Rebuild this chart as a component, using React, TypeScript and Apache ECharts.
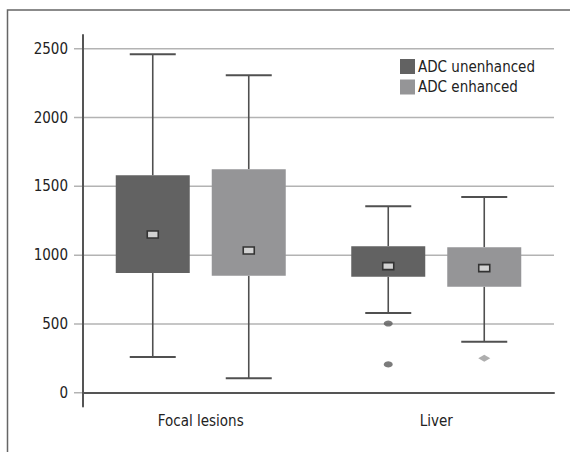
import React, { useEffect, useRef } from "react";
import * as echarts from "echarts";

const CATEGORIES = ["Focal lesions", "Liver"];
const SERIES_NAMES = ["ADC unenhanced", "ADC enhanced"];
const Y_TICKS = [0, 500, 1000, 1500, 2000, 2500];

// ADC unenhanced
const UNENH_MIN = [260, 580];
const UNENH_Q1 = [870, 843];
const UNENH_Q3 = [1580, 1065];
const UNENH_MAX = [2460, 1355];
const UNENH_MEAN = [1150, 920];
const UNENH_OUTLIERS: [string, number][] = [["Liver", 503], ["Liver", 206]];

// ADC enhanced
const ENH_MIN = [105, 370];
const ENH_Q1 = [850, 770];
const ENH_Q3 = [1625, 1058];
const ENH_MAX = [2307, 1422];
const ENH_MEAN = [1034, 906];
const ENH_OUTLIERS: [string, number][] = [["Liver", 250]];

const FONT = "'Liberation Sans Narrow', 'DejaVu Sans Condensed', 'Arial Narrow', sans-serif";
const WHISKER = "#505050";

function boxSeries(name: string, color: string, offset: number, mins: number[], q1s: number[], q3s: number[], maxs: number[], means: number[]) {
  return {
    type: "custom",
    name,
    z: 2,
    itemStyle: { color },
    encode: { x: 0, y: [1, 2, 3, 4, 5] },
    data: CATEGORIES.map((_, i) => [i, mins[i], q1s[i], q3s[i], maxs[i], means[i]]),
    renderItem: (params: any, api: any) => {
      const ci = api.value(0);
      const pMin = api.coord([ci, api.value(1)]);
      const pQ1 = api.coord([ci, api.value(2)]);
      const pQ3 = api.coord([ci, api.value(3)]);
      const pMax = api.coord([ci, api.value(4)]);
      const pMean = api.coord([ci, api.value(5)]);
      const cx = pMin[0] + offset;
      const boxW = 74;
      const capW = 46;
      return {
        type: "group",
        children: [
          { type: "line", shape: { x1: cx, y1: pMax[1], x2: cx, y2: pQ3[1] }, style: { stroke: WHISKER, lineWidth: 1.6 } },
          { type: "line", shape: { x1: cx, y1: pQ1[1], x2: cx, y2: pMin[1] }, style: { stroke: WHISKER, lineWidth: 1.6 } },
          { type: "line", shape: { x1: cx - capW / 2, y1: pMax[1], x2: cx + capW / 2, y2: pMax[1] }, style: { stroke: WHISKER, lineWidth: 2 } },
          { type: "line", shape: { x1: cx - capW / 2, y1: pMin[1], x2: cx + capW / 2, y2: pMin[1] }, style: { stroke: WHISKER, lineWidth: 2 } },
          { type: "rect", shape: { x: cx - boxW / 2, y: pQ3[1], width: boxW, height: pQ1[1] - pQ3[1] }, style: { fill: color } },
          { type: "rect", shape: { x: cx - 5.5, y: pMean[1] - 3.5, width: 11, height: 7 }, style: { fill: "#d2d2d2", stroke: "#333", lineWidth: 1.6 } },
        ],
      };
    },
  };
}

export default function App() {
  const ref = useRef<HTMLDivElement>(null);
  useEffect(() => {
    if (!ref.current) return;
    const chart = echarts.init(ref.current, null, { renderer: "svg" });
    chart.setOption({
      animation: false,
      textStyle: { fontFamily: FONT },
      grid: { left: 83, right: 16, top: 35, bottom: 45.5 },
      legend: {
        data: SERIES_NAMES,
        orient: "vertical",
        left: 400,
        top: 59,
        itemWidth: 15,
        itemHeight: 15,
        itemGap: 5.5,
        icon: "rect",
        padding: 0,
        textStyle: { fontFamily: FONT, fontSize: 15, color: "#222", padding: [0, 0, 0, -2] },
      },
      xAxis: {
        type: "category",
        data: CATEGORIES,
        z: 3,
        axisLine: { show: true, lineStyle: { color: "#555", width: 2 } },
        axisTick: { show: false },
        axisLabel: { fontFamily: FONT, fontSize: 15, color: "#222", margin: 7 },
        splitLine: { show: false },
      },
      yAxis: {
        type: "value",
        min: -100,
        max: 2600,
        z: 3,
        axisLine: { show: true, lineStyle: { color: "#555", width: 2 } },
        axisTick: { show: false },
        axisLabel: {
          customValues: Y_TICKS,
          fontFamily: FONT,
          fontSize: 15,
          color: "#222",
          margin: 15,
          formatter: (v: number) => (Y_TICKS.indexOf(v) >= 0 ? String(v) : ""),
        },
        splitLine: { show: false },
      },
      graphic: [
        {
          type: "rect",
          shape: { x: 7.5, y: 10, width: 700, height: 700 },
          style: { fill: "none", stroke: "#666", lineWidth: 1.5 },
          silent: true,
        },
      ],
      series: [
        {
          type: "custom",
          name: "grid",
          z: 1,
          silent: true,
          encode: { x: 0, y: 1 },
          data: Y_TICKS.map((v) => [0, v]),
          renderItem: (params: any, api: any) => {
            const cs = params.coordSys;
            const y = api.coord([0, api.value(1)])[1];
            return {
              type: "line",
              shape: { x1: cs.x - 9, y1: y, x2: cs.x + cs.width, y2: y },
              style: { stroke: "#b3b3b3", lineWidth: 1.5 },
            };
          },
        },
        boxSeries(SERIES_NAMES[0], "#626262", -48, UNENH_MIN, UNENH_Q1, UNENH_Q3, UNENH_MAX, UNENH_MEAN),
        boxSeries(SERIES_NAMES[1], "#959597", 48, ENH_MIN, ENH_Q1, ENH_Q3, ENH_MAX, ENH_MEAN),
        {
          type: "scatter",
          name: "unenhanced outliers",
          z: 2,
          symbol: "circle",
          symbolSize: [9, 6],
          symbolOffset: [-48, 0],
          itemStyle: { color: "#5a5a5a" },
          data: UNENH_OUTLIERS,
        },
        {
          type: "scatter",
          name: "enhanced outliers",
          z: 2,
          symbol: "diamond",
          symbolSize: [12, 7],
          symbolOffset: [48, 0],
          itemStyle: { color: "#9a9a9a" },
          data: ENH_OUTLIERS,
        },
      ],
    });
    return () => chart.dispose();
  }, []);
  return <div ref={ref} style={{ position: "absolute", left: 0, top: 0, width: 570, height: 452 }} />;
}
